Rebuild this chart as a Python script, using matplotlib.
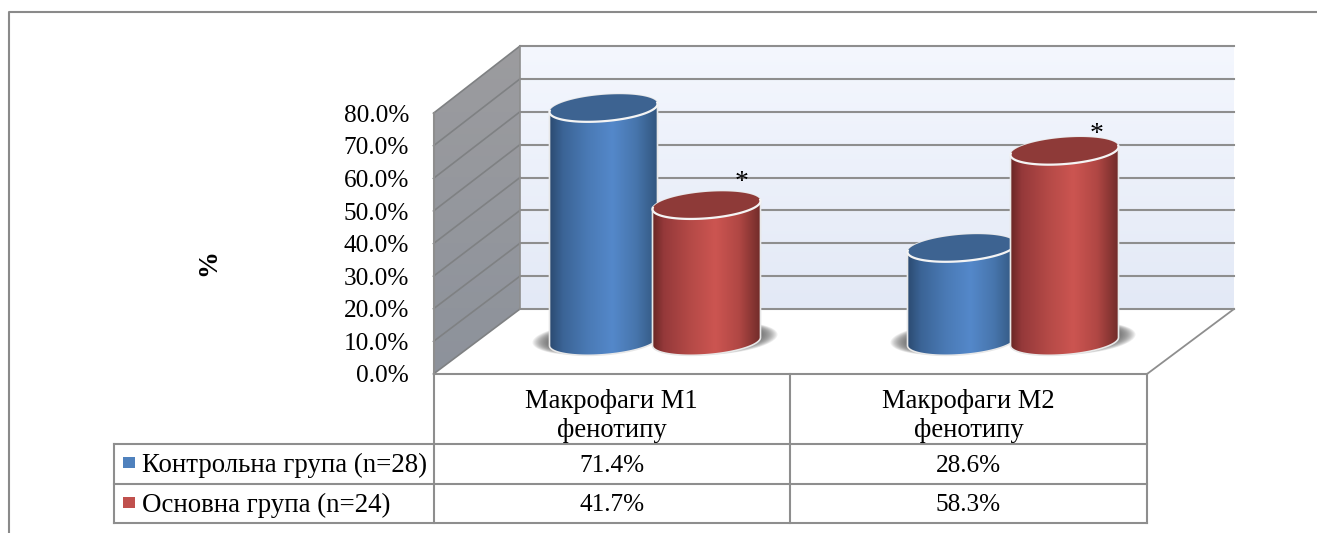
import numpy as np
import matplotlib
matplotlib.use('Agg')
import matplotlib.pyplot as plt
from matplotlib.colors import LinearSegmentedColormap
from matplotlib.patches import Polygon, Rectangle

plt.rcParams['font.family'] = ['Liberation Serif', 'DejaVu Serif']

categories = ['Макрофаги М1\nфенотипу', 'Макрофаги М2\nфенотипу']
groups = ['Контрольна група (n=28)', 'Основна група (n=24)']
control = [71.4, 28.6]
main_group = [41.7, 58.3]
ticks = [0, 10, 20, 30, 40, 50, 60, 70, 80]

# layout in pixels, y grows downwards
GRID = '#8e8e8e'
PX_PER_PCT = 3.27
FRONT_X, BACK_X, RIGHT_X, FRONT_RIGHT_X = 433.5, 520, 1234, 1147
FRONT_Y0, BACK_Y0 = 374, 309
FRONT_PER_PCT = 3.26
BACK_PER_PCT = 263 / 80
BAR_BASE = 341.5
BAR_A, BAR_B, BAR_SHEAR = 54, 13.2, 0.075
GROUP_X = [655, 1013]
BAR_OFFSET = 51.5
STAR_DX = [35, 32]
STAR_DY = [-25, -18]
FONT = 18.2
WIDE_FONT = 19.4

fig = plt.figure(figsize=(13.17, 5.33), dpi=100)
ax = fig.add_axes([0, 0, 1, 1])
ax.axis('off')


def gradient(colors, extent, clip, horizontal=False, zorder=1):
    cmap = LinearSegmentedColormap.from_list('g', colors)
    g = np.linspace(0, 1, 256)
    g = g.reshape(1, -1) if horizontal else g.reshape(-1, 1)
    im = ax.imshow(g, cmap=cmap, extent=extent, aspect='auto', zorder=zorder,
                   origin='upper', interpolation='bilinear')
    im.set_clip_path(clip)
    return im


def ellipse(cx, cy, t):
    x = cx + BAR_A * np.cos(t)
    y = cy + BAR_B * np.sin(t) - BAR_SHEAR * BAR_A * np.cos(t)
    return np.column_stack([x, y])


def draw_bar(cx, value, side, stops, top_color, z):
    top = BAR_BASE - value * PX_PER_PCT
    # soft shadow on the floor, stacked translucent ellipses
    sx = cx + side * 8
    t = np.linspace(0, 2 * np.pi, 80)
    for k in np.linspace(1.0, 0.74, 16):
        pts = np.column_stack([sx + (BAR_A + 9) * k * np.cos(t),
                               BAR_BASE - 3 + (BAR_B + 3) * k * np.sin(t) - 4 * np.cos(t)])
        ax.add_patch(Polygon(pts, fc='#5a5a5a', ec='none', alpha=0.09, zorder=z - 0.5))
    lower = ellipse(cx, BAR_BASE, np.linspace(np.pi, 0, 60))
    upper = ellipse(cx, top, np.linspace(0, -np.pi, 60))
    body = Polygon(np.vstack([lower, upper]), closed=True, fc='none', ec='none', zorder=z)
    ax.add_patch(body)
    gradient(stops, [cx - BAR_A, cx + BAR_A, BAR_BASE + 16, top - 16], body, True, z)
    ax.add_patch(Polygon(np.vstack([lower, upper]), closed=True, fc='none',
                         ec='#e8e8e8', lw=1.2, zorder=z + 0.1))
    cap = ellipse(cx, top, np.linspace(0, 2 * np.pi, 120))
    ax.add_patch(Polygon(cap, closed=True, fc=top_color, ec='none', zorder=z + 0.2))
    ax.plot(*ellipse(cx, top, np.linspace(-0.1, np.pi + 0.1, 60)).T, color='#f4f4f4',
            lw=1.6, zorder=z + 0.3)


# back wall and side wall
back = Polygon([(BACK_X, 46), (RIGHT_X, 46), (RIGHT_X, BACK_Y0), (BACK_X, BACK_Y0)],
               fc='none', ec='none')
ax.add_patch(back)
gradient(['#f4f7fe', '#e3e9f6'], [BACK_X, RIGHT_X, BACK_Y0, 46], back)
side = Polygon([(FRONT_X, 113), (BACK_X, 46), (BACK_X, BACK_Y0), (FRONT_X, FRONT_Y0)],
               fc='none', ec='none')
ax.add_patch(side)
gradient(['#9c9c9f', '#8d929b'], [FRONT_X, BACK_X, FRONT_Y0, 46], side)

for v in ticks:
    by = BACK_Y0 - v * BACK_PER_PCT
    fy = FRONT_Y0 - v * FRONT_PER_PCT
    ax.plot([BACK_X, RIGHT_X], [by, by], color=GRID, lw=1.5, zorder=2)
    ax.plot([FRONT_X, BACK_X], [fy, by], color='#7f8183', lw=1.2, zorder=2)
    ax.text(409, fy + 2.5, f'{v:.1f}%', ha='right', va='center', fontsize=FONT, color='black')

ax.plot([BACK_X, BACK_X], [46, BACK_Y0], color=GRID, lw=1.2, zorder=2)
ax.plot([FRONT_X, FRONT_X], [113, FRONT_Y0], color=GRID, lw=1.5, zorder=2)
ax.plot([RIGHT_X, FRONT_RIGHT_X], [BACK_Y0, FRONT_Y0], color=GRID, lw=1.3, zorder=2)

blue = [(0, '#2c4b72'), (0.12, '#3b6496'), (0.35, '#4a7ab5'), (0.58, '#5488ca'),
        (0.8, '#4775ac'), (1, '#31557d')]
red = [(0, '#6b2725'), (0.1, '#95393a'), (0.35, '#b54a47'), (0.58, '#cc5551'),
       (0.8, '#b04744'), (1, '#702b29')]

for i in range(len(categories)):
    draw_bar(GROUP_X[i] - BAR_OFFSET, control[i], -1, blue, '#3d6391', 3 + 2 * i)
    draw_bar(GROUP_X[i] + BAR_OFFSET, main_group[i], 1, red, '#8e3a38', 4 + 2 * i)
    # significance mark above the second group's bar
    star_y = BAR_BASE - main_group[i] * PX_PER_PCT + STAR_DY[i]
    ax.text(GROUP_X[i] + BAR_OFFSET + STAR_DX[i], star_y + 2, '*',
            ha='center', va='center', fontsize=20, zorder=12)

# data table under the plot
table_x = [FRONT_X, 790, FRONT_RIGHT_X]
ax.plot([FRONT_X, FRONT_RIGHT_X], [FRONT_Y0, FRONT_Y0], color=GRID, lw=1.5, zorder=2)
for x in table_x:
    ax.plot([x, x], [FRONT_Y0, 522.5], color=GRID, lw=1.5)
for y in [444, 484, 522.5]:
    ax.plot([114, FRONT_RIGHT_X], [y, y], color=GRID, lw=1.5)
ax.plot([114, 114], [444, 522.5], color=GRID, lw=1.5)

for i, name in enumerate(categories):
    cx = (table_x[i] + table_x[i + 1]) / 2
    ax.text(cx, 416, name, ha='center', va='center', fontsize=19.2, linespacing=1.22)
    ax.text(cx, 466, f'{control[i]:.1f}%', ha='center', va='center', fontsize=FONT)
    ax.text(cx, 505, f'{main_group[i]:.1f}%', ha='center', va='center', fontsize=FONT)

for name, y, c in zip(groups, [465, 505], ['#4f81bd', '#c0504d']):
    ax.add_patch(Rectangle((123, y - 8), 12, 11, fc=c, ec='none'))
    ax.text(142, y, name, ha='left', va='center', fontsize=WIDE_FONT)

ax.text(209, 263, '%', rotation=90, ha='center', va='center', fontsize=WIDE_FONT, fontweight='bold')

# outer frame, cut by the canvas on the right and bottom
ax.plot([8.5, 8.5, 1317], [533, 12, 12], color='#8a8a8a', lw=1.5)

ax.set_xlim(0, 1317)
ax.set_ylim(533, 0)
fig.savefig('out.png', dpi=100)
